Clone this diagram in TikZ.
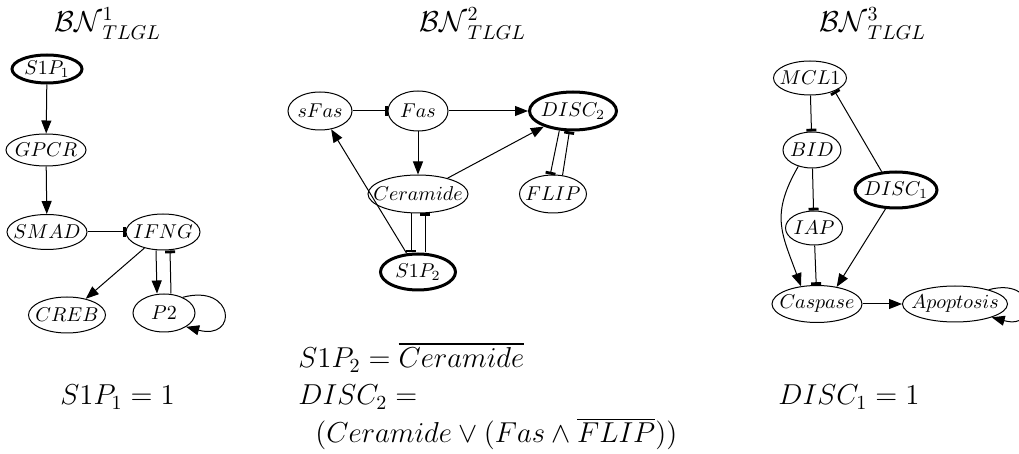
\documentclass[tikz,border=0pt]{standalone}
\usepackage{amsmath}
\usepackage{amssymb}
\usetikzlibrary{shapes.geometric,arrows.meta}

\tikzset{
  gene/.style={ellipse, draw, line width=0.5pt, inner sep=-10pt},
  input/.style={gene, line width=1.5pt},
  dims/.style 2 args={minimum width=#1, minimum height=#2},
  act/.style={line width=0.5pt, -{Triangle[length=6.5pt,width=5pt]}},
  inh/.style={line width=0.5pt, -{Bar[width=5pt,line width=1.4pt]}},
  title/.style={anchor=base, inner sep=0pt, font=\Large},
  eq/.style={anchor=base west, inner sep=0pt, font=\Large}
}

\begin{document}
\begin{tikzpicture}[x=0.5pt,y=0.5pt]
\useasboundingbox (0,0) rectangle (1019,-454);

% titles
\node[title] (titleA) at (108,-32) {$\mathcal{BN}^1_{TLGL}$};
\node[title] (titleB) at (473,-32) {$\mathcal{BN}^2_{TLGL}$};
\node[title] (titleC) at (873,-32) {$\mathcal{BN}^3_{TLGL}$};

% first network
\node[input, dims={35pt}{14pt}] (s1pA) at (47,-69) {$S1P_1$};
\node[gene, dims={40pt}{16pt}] (gpcr) at (46,-150) {$GPCR$};
\node[gene, dims={40pt}{17.5pt}] (smad) at (47,-232) {$SMAD$};
\node[gene, dims={37pt}{18pt}] (ifng) at (163,-232) {$IFNG$};
\node[gene, dims={38.5pt}{18pt}] (creb) at (67,-315) {$CREB$};
\node[gene, dims={31pt}{19pt}] (p2) at (164,-313) {$P2$};

\draw[act] (s1pA) -- (gpcr);
\draw[act] (gpcr) -- (smad);
\draw[inh] (smad) -- (ifng);
\draw[act] (ifng) -- (creb);
\draw[act] ([xshift=-3.5pt]ifng.south) -- ([xshift=-3.5pt]p2.north);
\draw[inh] ([xshift=3.5pt]p2.north) -- ([xshift=3.5pt]ifng.south);
\draw[act] (p2.40) to[out=15,in=-15,distance=27pt] (p2.-32);

% second network
\node[gene, dims={32pt}{19pt}] (sfas) at (320,-111) {$sFas$};
\node[gene, dims={30pt}{20pt}] (fas) at (418,-111) {$Fas$};
\node[input, dims={43.5pt}{19pt}] (disc2) at (573,-111) {$DISC_2$};
\node[gene, dims={50pt}{19pt}] (ceramide) at (418,-194) {$Ceramide$};
\node[gene, dims={33.5pt}{19pt}] (flip) at (553,-194) {$FLIP$};
\node[input, dims={37.5pt}{18pt}] (s1pB) at (418,-272) {$S1P_2$};

\draw[inh] (sfas) -- (fas);
\draw[act] (fas) -- (disc2);
\draw[act] (fas) -- (ceramide);
\draw[act] (ceramide) -- (disc2);
\draw[act] (s1pB) -- (sfas);
\draw[inh] ([xshift=-3.5pt]ceramide.south) -- ([xshift=-3.5pt]s1pB.north);
\draw[inh] ([xshift=3.5pt]s1pB.north) -- ([xshift=3.5pt]ceramide.south);
\draw[inh] (disc2.235) -- (flip.98);
\draw[inh] (flip.63) -- (disc2.260);

% third network
\node[gene, dims={36.5pt}{17pt}] (mcl1) at (810,-78) {$MCL1$};
\node[gene, dims={29pt}{18pt}] (bid) at (812,-150) {$BID$};
\node[input, dims={41pt}{18pt}] (disc1) at (896,-190) {$DISC_1$};
\node[gene, dims={28.5pt}{17pt}] (iap) at (814,-228) {$IAP$};
\node[gene, dims={45pt}{18.5pt}] (caspase) at (817,-304) {$Caspase$};
\node[gene, dims={52.5pt}{18pt}] (apop) at (955,-304) {$Apoptosis$};

\draw[inh] (mcl1) -- (bid);
\draw[inh] (disc1.128) -- (mcl1.-28);
\draw[inh] (bid) -- (iap);
\draw[act] (bid.230) to[out=240,in=110,looseness=1.2] (caspase.132);
\draw[inh] (iap) -- (caspase);
\draw[act] (disc1.241) -- (caspase.41);
\draw[act] (caspase) -- (apop);
\draw[act] (apop.23) to[out=15,in=-15,distance=25pt] (apop.-20);

% update rules
\node[eq] (ruleA) at (60,-405) {$S1P_1 = 1$};
\node[eq] (ruleB) at (298,-368) {$S1P_2 = \overline{Ceramide}$};
\node[eq] (ruleC) at (298,-405) {$DISC_2 =$};
\node[eq] (ruleD) at (315,-443) {$(Ceramide \vee (Fas \wedge \overline{FLIP}))$};
\node[eq] (ruleE) at (778,-405) {$DISC_1 = 1$};

\end{tikzpicture}
\end{document}
